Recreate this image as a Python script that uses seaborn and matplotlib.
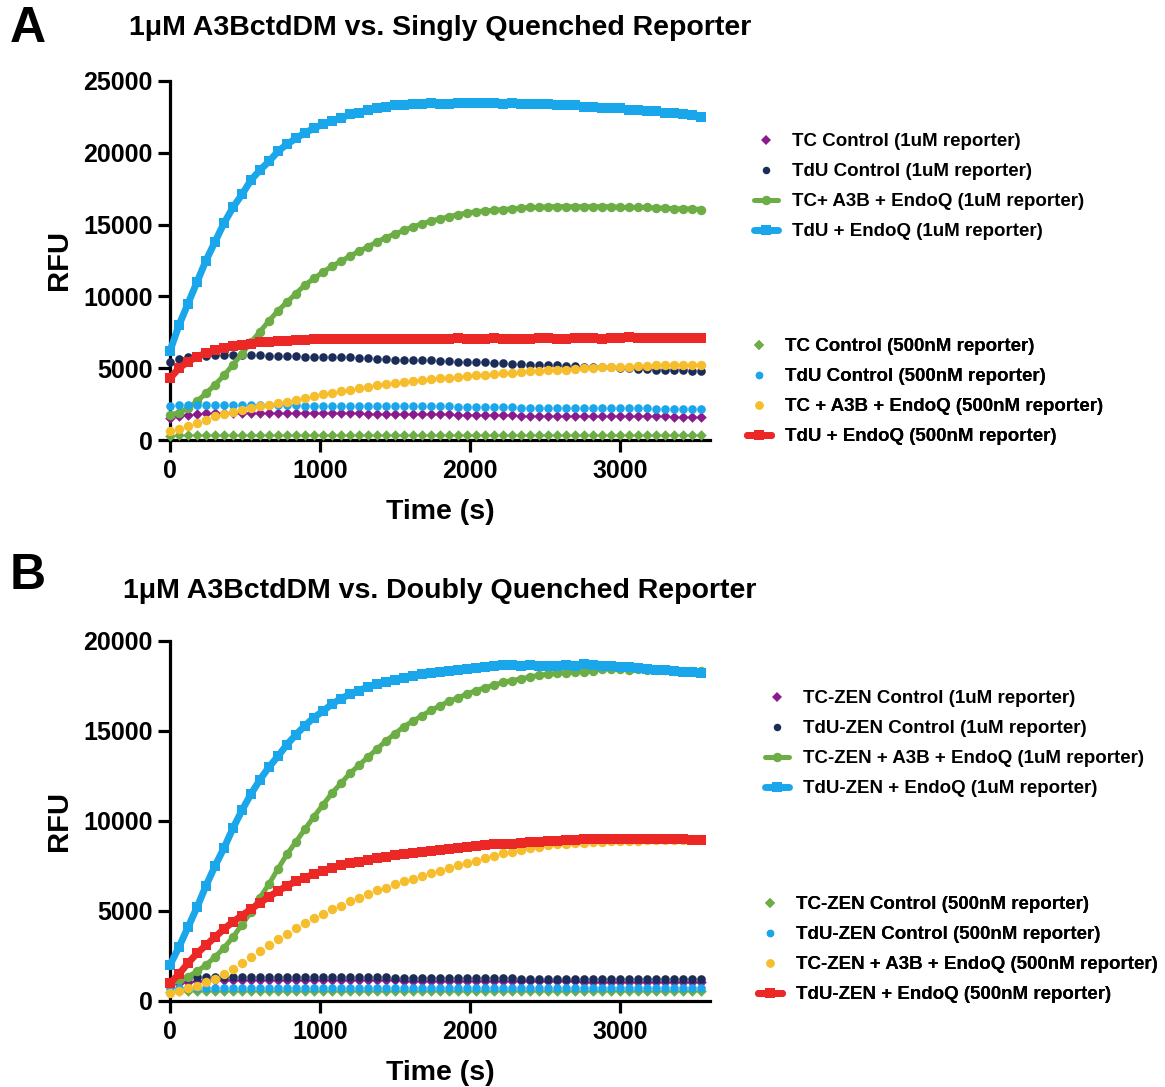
#!/usr/bin/env python3
"""
Kinetic fluorescence traces: A3BctdDM vs. singly / doubly quenched reporters.
"""

import numpy as np
import pandas as pd
import matplotlib
matplotlib.use("Agg")
import matplotlib.pyplot as plt
import seaborn as sns
from matplotlib.lines import Line2D

# ---------------------------------------------------------------- data
TIME_S = [0, 60, 120, 180, 240, 300, 360, 420, 480, 540,
          600, 660, 720, 780, 840, 900, 960, 1020, 1080, 1140,
          1200, 1260, 1320, 1380, 1440, 1500, 1560, 1620, 1680, 1740,
          1800, 1860, 1920, 1980, 2040, 2100, 2160, 2220, 2280, 2340,
          2400, 2460, 2520, 2580, 2640, 2700, 2760, 2820, 2880, 2940,
          3000, 3060, 3120, 3180, 3240, 3300, 3360, 3420, 3480, 3540]

# Panel A - singly quenched reporter
A_TC_CTRL_1UM = [1500, 1650, 1750, 1800, 1850, 1850, 1850, 1850, 1850, 1850,
                 1850, 1850, 1850, 1850, 1850, 1850, 1850, 1850, 1850, 1850,
                 1850, 1850, 1800, 1800, 1800, 1800, 1800, 1800, 1800, 1800,
                 1800, 1800, 1750, 1750, 1750, 1750, 1750, 1750, 1750, 1700,
                 1700, 1700, 1700, 1700, 1700, 1700, 1700, 1650, 1650, 1650,
                 1650, 1650, 1650, 1650, 1650, 1650, 1600, 1600, 1600, 1600]
A_TDU_CTRL_1UM = [5450, 5650, 5750, 5800, 5850, 5900, 5900, 5900, 5900, 5900,
                  5900, 5850, 5850, 5850, 5850, 5800, 5800, 5800, 5750, 5750,
                  5750, 5700, 5700, 5650, 5650, 5600, 5600, 5600, 5550, 5550,
                  5500, 5500, 5450, 5450, 5400, 5400, 5350, 5350, 5300, 5300,
                  5250, 5250, 5200, 5200, 5150, 5150, 5100, 5100, 5050, 5050,
                  5000, 5000, 4950, 4950, 4900, 4900, 4850, 4850, 4800, 4800]
A_TC_A3B_1UM = [1750, 1900, 2200, 2700, 3250, 3850, 4500, 5250, 6000, 6800,
                7550, 8300, 9000, 9600, 10200, 10800, 11250, 11700, 12100, 12450,
                12800, 13150, 13450, 13800, 14100, 14350, 14600, 14850, 15050, 15250,
                15400, 15550, 15700, 15800, 15900, 15950, 16000, 16050, 16100, 16150,
                16200, 16200, 16250, 16250, 16250, 16250, 16250, 16250, 16250, 16250,
                16200, 16200, 16200, 16200, 16150, 16150, 16100, 16100, 16100, 16050]
A_TDU_ENDOQ_1UM = [6200, 8000, 9500, 11000, 12500, 13800, 15100, 16200, 17100, 18100,
                   18800, 19400, 20100, 20600, 21000, 21400, 21700, 22000, 22200, 22400,
                   22700, 22800, 23000, 23100, 23200, 23300, 23300, 23400, 23400, 23500,
                   23400, 23400, 23500, 23500, 23500, 23500, 23500, 23400, 23500, 23400,
                   23400, 23400, 23400, 23300, 23300, 23300, 23200, 23200, 23100, 23100,
                   23100, 23000, 23000, 22900, 22900, 22800, 22800, 22700, 22600, 22500]
A_TC_CTRL_500 = [300, 320, 330, 330, 330, 330, 330, 330, 330, 330,
                 330, 330, 330, 330, 330, 330, 330, 330, 330, 330,
                 330, 330, 330, 330, 330, 330, 330, 330, 330, 330,
                 330, 330, 330, 330, 330, 330, 330, 330, 330, 330,
                 330, 330, 330, 330, 330, 330, 330, 330, 330, 330,
                 330, 330, 330, 330, 330, 330, 330, 330, 330, 330]
A_TDU_CTRL_500 = [2400, 2450, 2450, 2450, 2450, 2450, 2450, 2450, 2450, 2450,
                  2450, 2450, 2450, 2450, 2450, 2400, 2400, 2400, 2400, 2400,
                  2400, 2400, 2400, 2400, 2400, 2350, 2350, 2350, 2350, 2350,
                  2350, 2350, 2300, 2300, 2300, 2300, 2300, 2300, 2300, 2250,
                  2250, 2250, 2250, 2250, 2250, 2250, 2250, 2200, 2200, 2200,
                  2200, 2200, 2200, 2200, 2150, 2150, 2150, 2150, 2150, 2150]
A_TC_A3B_500 = [600, 800, 1000, 1200, 1400, 1650, 1800, 1950, 2100, 2250,
                2350, 2450, 2550, 2650, 2800, 2950, 3050, 3200, 3300, 3400,
                3500, 3600, 3700, 3800, 3900, 3950, 4050, 4100, 4200, 4250,
                4300, 4350, 4400, 4450, 4500, 4550, 4600, 4650, 4700, 4750,
                4800, 4800, 4850, 4900, 4900, 4950, 5000, 5000, 5050, 5050,
                5100, 5100, 5150, 5150, 5200, 5200, 5200, 5250, 5250, 5250]
A_TDU_ENDOQ_500 = [4300, 5000, 5450, 5800, 6050, 6250, 6400, 6550, 6650, 6700,
                   6800, 6850, 6900, 6900, 6950, 6950, 7000, 7000, 7000, 7000,
                   7050, 7050, 7000, 7050, 7050, 7050, 7050, 7000, 7050, 7050,
                   7050, 7050, 7100, 7050, 7050, 7050, 7100, 7050, 7050, 7000,
                   7050, 7100, 7100, 7050, 7050, 7100, 7100, 7100, 7050, 7100,
                   7100, 7150, 7100, 7100, 7100, 7100, 7100, 7100, 7100, 7100]

# Panel B - doubly quenched (ZEN) reporter
B_TC_CTRL_1UM = [900, 1000, 1050, 1100, 1150, 1150, 1150, 1150, 1150, 1150,
                 1150, 1150, 1150, 1150, 1150, 1150, 1150, 1150, 1150, 1150,
                 1150, 1150, 1150, 1150, 1150, 1150, 1100, 1100, 1100, 1100,
                 1100, 1100, 1100, 1100, 1100, 1100, 1100, 1100, 1100, 1100,
                 1100, 1100, 1100, 1100, 1100, 1100, 1050, 1050, 1050, 1050,
                 1050, 1050, 1050, 1050, 1050, 1050, 1050, 1050, 1050, 1050]
B_TDU_CTRL_1UM = [1050, 1250, 1300, 1350, 1350, 1350, 1350, 1350, 1350, 1350,
                  1350, 1350, 1350, 1350, 1350, 1350, 1350, 1350, 1350, 1350,
                  1350, 1350, 1350, 1350, 1350, 1300, 1300, 1300, 1300, 1300,
                  1300, 1300, 1300, 1300, 1300, 1300, 1300, 1300, 1300, 1250,
                  1250, 1250, 1250, 1250, 1250, 1250, 1250, 1250, 1250, 1250,
                  1250, 1250, 1200, 1200, 1200, 1200, 1200, 1200, 1200, 1200]
B_TC_A3B_1UM = [1000, 1150, 1350, 1650, 2000, 2450, 2950, 3550, 4250, 4950,
                5750, 6500, 7350, 8150, 8850, 9550, 10250, 10900, 11550, 12100,
                12650, 13100, 13550, 14000, 14450, 14850, 15250, 15550, 15850, 16150,
                16400, 16650, 16850, 17050, 17250, 17400, 17550, 17700, 17800, 17900,
                18000, 18100, 18150, 18200, 18250, 18300, 18300, 18350, 18450, 18450,
                18450, 18400, 18450, 18400, 18400, 18400, 18350, 18350, 18350, 18350]
B_TDU_ENDOQ_1UM = [2000, 3000, 4100, 5200, 6400, 7500, 8500, 9600, 10600, 11500,
                   12300, 13000, 13600, 14250, 14800, 15300, 15750, 16100, 16500, 16800,
                   17050, 17250, 17450, 17600, 17750, 17850, 17950, 18050, 18150, 18250,
                   18300, 18350, 18400, 18450, 18500, 18550, 18600, 18650, 18650, 18600,
                   18650, 18600, 18600, 18600, 18650, 18600, 18700, 18650, 18600, 18600,
                   18550, 18550, 18500, 18450, 18400, 18400, 18350, 18300, 18300, 18250]
B_TC_CTRL_500 = [500, 550, 550, 550, 550, 550, 550, 550, 550, 550,
                 550, 550, 550, 550, 550, 550, 550, 550, 550, 550,
                 550, 550, 550, 550, 550, 550, 550, 550, 550, 550,
                 550, 550, 550, 550, 550, 550, 550, 550, 550, 550,
                 550, 550, 550, 550, 550, 550, 550, 550, 550, 550,
                 550, 550, 550, 550, 550, 550, 550, 550, 550, 550]
B_TDU_CTRL_500 = [700, 750, 750, 750, 750, 750, 750, 750, 750, 750,
                  750, 750, 750, 750, 750, 750, 750, 750, 750, 750,
                  750, 750, 750, 750, 750, 750, 750, 750, 750, 750,
                  750, 750, 750, 750, 750, 750, 750, 750, 750, 750,
                  750, 750, 750, 750, 750, 750, 700, 700, 700, 700,
                  700, 700, 700, 700, 700, 700, 700, 700, 700, 700]
B_TC_A3B_500 = [450, 550, 700, 850, 1050, 1250, 1500, 1800, 2100, 2450,
                2800, 3100, 3450, 3750, 4050, 4350, 4600, 4850, 5100, 5300,
                5550, 5750, 5950, 6150, 6300, 6500, 6650, 6800, 6950, 7100,
                7250, 7400, 7550, 7650, 7800, 7950, 8050, 8200, 8300, 8400,
                8500, 8550, 8650, 8700, 8750, 8800, 8800, 8850, 8850, 8900,
                8900, 8900, 8900, 8950, 8950, 8950, 8950, 8950, 9000, 9000]
B_TDU_ENDOQ_500 = [1000, 1500, 2100, 2650, 3100, 3550, 4000, 4400, 4750, 5100,
                   5450, 5800, 6100, 6400, 6650, 6850, 7050, 7250, 7400, 7550,
                   7650, 7750, 7850, 7950, 8000, 8100, 8150, 8250, 8300, 8350,
                   8400, 8450, 8500, 8550, 8600, 8650, 8700, 8700, 8750, 8800,
                   8850, 8850, 8900, 8900, 8950, 8950, 9000, 9000, 9000, 9000,
                   9000, 9000, 9000, 9000, 9000, 9000, 9000, 9000, 8950, 8950]

LABELS_A = ["TC Control (1uM reporter)", "TdU Control (1uM reporter)",
            "TC+ A3B + EndoQ (1uM reporter)", "TdU + EndoQ (1uM reporter)",
            "TC Control (500nM reporter)", "TdU Control (500nM reporter)",
            "TC + A3B + EndoQ (500nM reporter)", "TdU + EndoQ (500nM reporter)"]
LABELS_B = ["TC-ZEN Control (1uM reporter)", "TdU-ZEN Control (1uM reporter)",
            "TC-ZEN + A3B + EndoQ (1uM reporter)", "TdU-ZEN + EndoQ (1uM reporter)",
            "TC-ZEN Control (500nM reporter)", "TdU-ZEN Control (500nM reporter)",
            "TC-ZEN + A3B + EndoQ (500nM reporter)", "TdU-ZEN + EndoQ (500nM reporter)"]

PURPLE = "#8b1a8c"
NAVY = "#1b2c58"
GREEN = "#6cad45"
SKY = "#1aa6ea"
YELLOW = "#f6bd2c"
RED = "#ec2826"

# style per legend slot: colour, marker, marker size, line width (0 = points only)
STYLES = [
    (PURPLE, "D", 5.4, 0),
    (NAVY, "o", 6.2, 0),
    (GREEN, "o", 6.8, 3.6),
    (SKY, "s", 7.0, 5.0),
    (GREEN, "D", 5.4, 0),
    (SKY, "o", 6.2, 0),
    (YELLOW, "o", 6.8, 0),
    (RED, "s", 7.0, 5.0),
]


def setup_style():
    sns.set_style("ticks")
    plt.rcParams.update({
        "font.family": ["Liberation Sans", "DejaVu Sans"],
        "font.weight": "bold",
        "text.color": "black",
        "axes.labelcolor": "black",
        "axes.labelweight": "bold",
        "axes.linewidth": 2.3,
        "xtick.major.width": 2.3,
        "ytick.major.width": 2.3,
        "xtick.major.size": 8.5,
        "ytick.major.size": 8.5,
        "xtick.major.pad": 5,
        "ytick.major.pad": 4,
        "xtick.labelsize": 18,
        "ytick.labelsize": 18,
        "axes.edgecolor": "black",
        "xtick.color": "black",
        "ytick.color": "black",
    })


def plot_panel(ax, series, draw_order, ymax):
    for i in draw_order:
        color, marker, ms, lw = STYLES[i]
        y = series[i]
        if lw > 0:
            sns.lineplot(x=TIME_S, y=y, ax=ax, color=color, linewidth=lw,
                         marker=marker, markersize=ms, markeredgewidth=0,
                         clip_on=False, zorder=3 + i)
        else:
            sns.scatterplot(x=TIME_S, y=y, ax=ax, color=color, marker=marker,
                            s=ms ** 2, linewidth=0, clip_on=False, zorder=3 + i)

    ax.set_xlim(0, 3600)
    ax.set_ylim(0, ymax)
    ax.set_xticks([0, 1000, 2000, 3000])
    ax.set_yticks(np.arange(0, ymax + 1, 5000))
    for lab in ax.get_xticklabels() + ax.get_yticklabels():
        lab.set_fontweight("bold")
    ax.set_xlabel("Time (s)", fontsize=20.5, labelpad=12)
    ax.set_ylabel("RFU", fontsize=21, labelpad=7)
    sns.despine(ax=ax)


def add_legend(fig, ax, labels, idx, x_px, top_px):
    handles = []
    for i in idx:
        color, marker, ms, lw = STYLES[i]
        if lw > 0:
            handles.append(Line2D([], [], color=color, marker=marker, markersize=ms,
                                  markeredgewidth=0, linewidth=lw))
        else:
            handles.append(Line2D([], [], color=color, marker=marker, markersize=ms - 0.8,
                                  markeredgewidth=0, linestyle="none"))
    W, H = fig.get_size_inches() * fig.dpi
    leg = ax.legend(handles, [labels[i] for i in idx], loc="upper left",
                    bbox_to_anchor=(x_px / W, 1 - top_px / H),
                    bbox_transform=fig.transFigure, frameon=False,
                    borderpad=0, borderaxespad=0, handlelength=1.3,
                    handletextpad=0.75, labelspacing=0.69, numpoints=1,
                    prop={"weight": "bold", "size": 13.5})
    ax.add_artist(leg)


def main():
    setup_style()
    fig = plt.figure(figsize=(11.65, 10.87), dpi=100)
    W, H = 1165, 1087

    ax_a = fig.add_axes([170 / W, 1 - 440 / H, 540 / W, 359 / H])
    ax_b = fig.add_axes([170 / W, 1 - 1001 / H, 540 / W, 360 / H])

    series_a = [A_TC_CTRL_1UM, A_TDU_CTRL_1UM, A_TC_A3B_1UM, A_TDU_ENDOQ_1UM,
                A_TC_CTRL_500, A_TDU_CTRL_500, A_TC_A3B_500, A_TDU_ENDOQ_500]
    series_b = [B_TC_CTRL_1UM, B_TDU_CTRL_1UM, B_TC_A3B_1UM, B_TDU_ENDOQ_1UM,
                B_TC_CTRL_500, B_TDU_CTRL_500, B_TC_A3B_500, B_TDU_ENDOQ_500]

    plot_panel(ax_a, series_a, [4, 0, 5, 1, 6, 7, 2, 3], 25000)
    plot_panel(ax_b, series_b, [4, 5, 0, 1, 6, 7, 3, 2], 20000)

    add_legend(fig, ax_a, LABELS_A, [0, 1, 2, 3], 754, 133)
    add_legend(fig, ax_a, LABELS_A, [4, 5, 6, 7], 747, 338)
    add_legend(fig, ax_b, LABELS_B, [0, 1, 2, 3], 765, 690)
    add_legend(fig, ax_b, LABELS_B, [4, 5, 6, 7], 758, 896)

    fig.text(10 / W, 1 - 29 / H, "A", fontsize=36, weight="bold", ha="left", va="center")
    fig.text(10 / W, 1 - 576 / H, "B", fontsize=36, weight="bold", ha="left", va="center")
    fig.text(440 / W, 1 - 28 / H, "1\u03bcM A3BctdDM vs. Singly Quenched Reporter",
             fontsize=20.5, weight="bold", ha="center", va="center")
    fig.text(440 / W, 1 - 591 / H, "1\u03bcM A3BctdDM vs. Doubly Quenched Reporter",
             fontsize=20.5, weight="bold", ha="center", va="center")

    fig.savefig("out.png", dpi=100)
    plt.close(fig)


if __name__ == "__main__":
    main()
